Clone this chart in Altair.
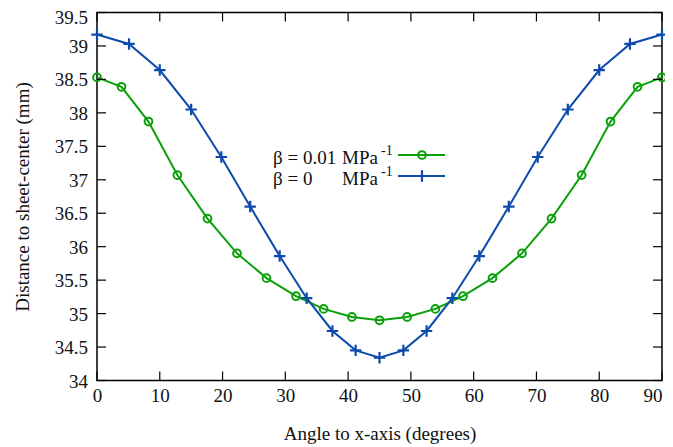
import altair as alt
import pandas as pd

# ---- data ----
green_angle = [0, 3.9, 8.2, 12.8, 17.6, 22.3, 27.0, 31.7, 36.1, 40.6, 45,
               49.4, 53.9, 58.3, 63.0, 67.7, 72.4, 77.2, 81.8, 86.1, 90]
green_dist = [38.53, 38.39, 37.87, 37.07, 36.42, 35.90, 35.53, 35.26, 35.07, 34.95, 34.90,
              34.95, 35.07, 35.26, 35.53, 35.90, 36.42, 37.07, 37.87, 38.39, 38.53]
blue_angle = [0, 5.1, 10.0, 15.0, 19.8, 24.4, 29.1, 33.4, 37.5, 41.2, 45,
              48.8, 52.5, 56.6, 60.9, 65.6, 70.2, 75.0, 80.0, 84.9, 90]
blue_dist = [39.17, 39.03, 38.64, 38.05, 37.34, 36.60, 35.86, 35.23, 34.74, 34.45, 34.34,
             34.45, 34.74, 35.23, 35.86, 36.60, 37.34, 38.05, 38.64, 39.03, 39.17]
x_ticks = [0, 10, 20, 30, 40, 50, 60, 70, 80, 90]
y_ticks = [34, 34.5, 35, 35.5, 36, 36.5, 37, 37.5, 38, 38.5, 39, 39.5]
y_tick_labels = ["34", "34.5", "35", "35.5", "36", "36.5", "37", "37.5", "38", "38.5", "39", "39.5"]
legend_prefix = ["β = 0.01", "β = 0"]

GREEN = "#0aa00a"
BLUE = "#0c4aab"
FONT = "Liberation Serif"
W, H = 565, 368

green_df = pd.DataFrame({"angle": green_angle, "dist": green_dist})
blue_df = pd.DataFrame({"angle": blue_angle, "dist": blue_dist})
xt_df = pd.DataFrame({"v": x_ticks})
yt_df = pd.DataFrame({"v": y_ticks, "lab": y_tick_labels})

xscale = alt.Scale(domain=[0, 90], nice=False, zero=False)
yscale = alt.Scale(domain=[34, 39.5], nice=False, zero=False)

xaxis = alt.Axis(values=x_ticks, ticks=False, domain=False, grid=False,
                 labelOverlap=False, labelFlush=False,
                 labelAlign=alt.condition("datum.value == 90", alt.value("right"), alt.value("center")),
                 labelFont=FONT, labelFontSize=19, labelColor="#111", labelPadding=6,
                 labelBaseline="top",
                 title="Angle to x-axis (degrees)", titleFont=FONT, titleFontSize=19,
                 titleFontWeight="normal", titleColor="#111", titleY=53,
                 titleBaseline="middle", titleAlign="center")
yaxis = alt.Axis(values=y_ticks, ticks=False, domain=False, grid=False, labels=False,
                 title="Distance to sheet-center (mm)", titleFont=FONT, titleFontSize=19,
                 titleFontWeight="normal", titleColor="#111", titleX=-75, titleY=H / 2,
                 titleBaseline="middle", titleAlign="center", titleAngle=-90)

plus_path = "M-1,0H1M0,-1V1"

green_line = alt.Chart(green_df).mark_line(color=GREEN, strokeWidth=2).encode(
    x=alt.X("angle:Q", scale=xscale, axis=xaxis),
    y=alt.Y("dist:Q", scale=yscale, axis=yaxis),
)
green_pts = alt.Chart(green_df).mark_point(shape="circle", filled=False, color=GREEN,
                                           strokeWidth=2, size=60, opacity=1).encode(
    x=alt.X("angle:Q", scale=xscale), y=alt.Y("dist:Q", scale=yscale))
blue_line = alt.Chart(blue_df).mark_line(color=BLUE, strokeWidth=2).encode(
    x=alt.X("angle:Q", scale=xscale), y=alt.Y("dist:Q", scale=yscale))
blue_pts = alt.Chart(blue_df).mark_point(shape=plus_path, filled=False, color=BLUE,
                                         strokeWidth=2.2, size=130, opacity=1).encode(
    x=alt.X("angle:Q", scale=xscale), y=alt.Y("dist:Q", scale=yscale))

# y tick labels (the top one nudged down so it stays inside the page)
y_labels = alt.Chart(yt_df).transform_filter("datum.v < 39.5").mark_text(
    font=FONT, fontSize=19, align="right", baseline="middle", color="#111", dx=-9, dy=1).encode(
    y=alt.Y("v:Q", scale=yscale), x=alt.value(0), text="lab:N")
y_label_top = alt.Chart(yt_df).transform_filter("datum.v >= 39.5").mark_text(
    font=FONT, fontSize=19, align="right", baseline="middle", color="#111", dx=-9, dy=5).encode(
    y=alt.Y("v:Q", scale=yscale), x=alt.value(0), text="lab:N")

# inward tick marks on all four sides
TL = 9
left_t = alt.Chart(yt_df).mark_rule(color="#000", strokeWidth=1.2).encode(
    y=alt.Y("v:Q", scale=yscale), x=alt.value(0), x2=alt.value(TL))
right_t = alt.Chart(yt_df).mark_rule(color="#000", strokeWidth=1.2).encode(
    y=alt.Y("v:Q", scale=yscale), x=alt.value(W - TL), x2=alt.value(W))
bot_t = alt.Chart(xt_df).mark_rule(color="#000", strokeWidth=1.2).encode(
    x=alt.X("v:Q", scale=xscale), y=alt.value(H - TL), y2=alt.value(H))
top_t = alt.Chart(xt_df).mark_rule(color="#000", strokeWidth=1.2).encode(
    x=alt.X("v:Q", scale=xscale), y=alt.value(0), y2=alt.value(TL))

# manual legend
one = pd.DataFrame({"k": [0]})
LX, MX, SX = 176, 245, 284
L1, L2 = 142.5, 163.5
leg = []
for lab, yy, col, shp, sz in [(legend_prefix[0], L1, GREEN, "circle", 60),
                              (legend_prefix[1], L2, BLUE, plus_path, 130)]:
    leg.append(alt.Chart(one).mark_text(text=lab, font=FONT, fontSize=19, align="left",
                                        baseline="middle", color="#111").encode(
        x=alt.value(LX), y=alt.value(yy + 3)))
    leg.append(alt.Chart(one).mark_text(text="MPa", font=FONT, fontSize=19, align="left",
                                        baseline="middle", color="#111").encode(
        x=alt.value(MX), y=alt.value(yy + 3)))
    leg.append(alt.Chart(one).mark_text(text="-1", font=FONT, fontSize=14, align="left",
                                        baseline="middle", color="#111").encode(
        x=alt.value(SX), y=alt.value(yy - 4)))
    leg.append(alt.Chart(one).mark_rule(color=col, strokeWidth=2).encode(
        x=alt.value(301), x2=alt.value(348), y=alt.value(yy)))
    leg.append(alt.Chart(one).mark_point(shape=shp, filled=False, color=col, opacity=1,
                                         strokeWidth=2 if shp == "circle" else 2.2,
                                         size=sz).encode(
        x=alt.value(325), y=alt.value(yy)))

chart = alt.layer(green_line, blue_line, green_pts, blue_pts, y_labels, y_label_top,
                  left_t, right_t, bot_t, top_t, *leg).properties(
    width=W, height=H,
    autosize=alt.AutoSizeParams(type="none"),
    padding={"left": 89, "top": 4.5, "right": 3, "bottom": 66},
    background="white",
).configure_view(stroke="#000", strokeWidth=1.5)

chart.save("out.html", embed_options={"renderer": "svg", "actions": False})
